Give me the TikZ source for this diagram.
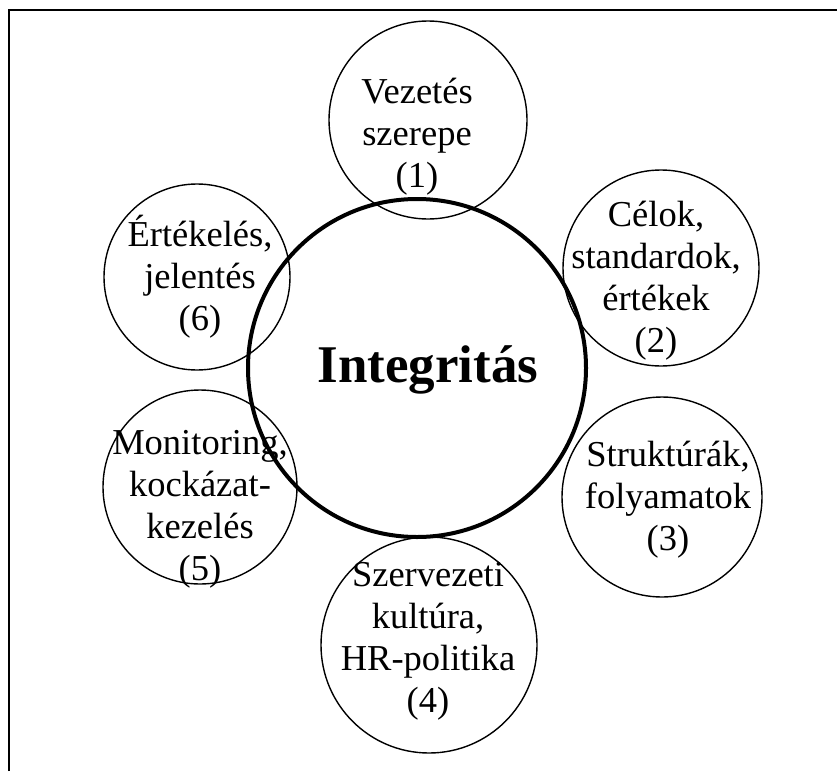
\documentclass[tikz,border=0pt]{standalone}
\usepackage{fontspec}
\setmainfont{Liberation Serif}
\begin{document}
\begin{tikzpicture}[x=1pt,y=-1pt,
  ring/.style={draw, circle, inner sep=0pt, line width=1.4pt},
  core/.style={draw, circle, inner sep=0pt, line width=4pt},
  lbl/.style={align=center, inner sep=0pt, anchor=base,
    font=\fontsize{36.5}{42}\selectfont},
  frameline/.style={line width=2pt}]
\useasboundingbox (0,0) rectangle (837,771);

% open frame: left and top edges
\coordinate (fbl) at (8.5,771);
\coordinate (ftl) at (8.5,10);
\coordinate (ftr) at (837,10);
\draw[frameline] (fbl) -- (ftl) -- (ftr);

% surrounding circles
\node[ring, minimum size=198pt] (c1) at (428,120) {};
\node[ring, minimum size=196pt] (c2) at (661,268) {};
\node[ring, minimum size=200pt] (c3) at (662,497) {};
\node[ring, minimum size=216pt] (c4) at (429,645) {};
\node[ring, minimum size=194pt] (c5) at (200,487) {};
\node[ring, minimum size=186pt] (c6) at (197,277) {};

% central circle
\node[core, minimum size=338pt] (cc) at (417,368) {};
\node[font=\fontsize{53}{60}\selectfont\bfseries, anchor=base, inner sep=0pt] (tc) at (428,382) {Integritás};

% labels (base anchor sits on the last line)
\node[lbl] (t1) at (417,187) {Vezetés\\szerepe\\(1)};
\node[lbl] (t2) at (656,352) {Célok,\\standardok,\\értékek\\(2)};
\node[lbl] (t3) at (668,550) {Struktúrák,\\folyamatok\\(3)};
\node[lbl] (t4) at (428,712) {Szervezeti\\kultúra,\\HR-politika\\(4)};
\node[lbl] (t5) at (200,580) {Monitoring,\\kockázat-\\kezelés\\(5)};
\node[lbl] (t6) at (200,330) {Értékelés,\\jelentés\\(6)};
\end{tikzpicture}
\end{document}
